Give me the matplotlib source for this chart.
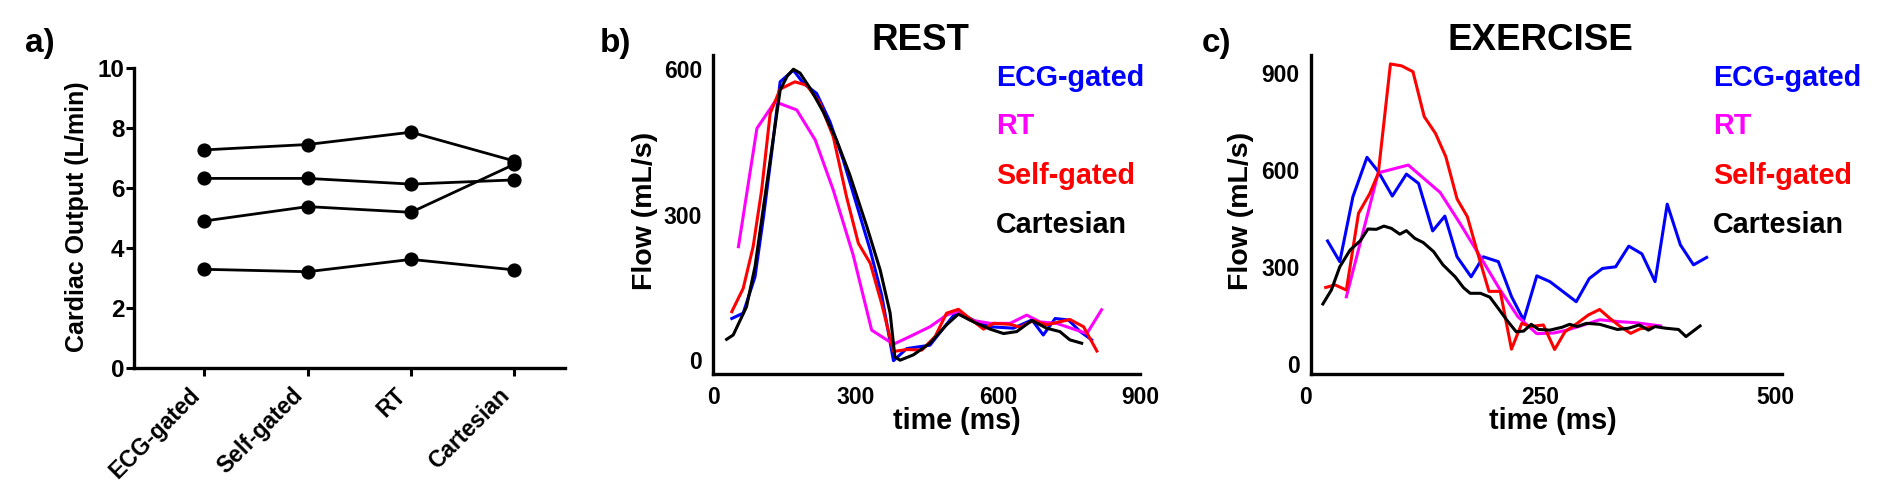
import matplotlib
matplotlib.use('Agg')
import matplotlib.pyplot as plt

plt.rcParams['font.family'] = ['Liberation Sans', 'DejaVu Sans']
plt.rcParams['font.weight'] = 'bold'

W, H, DPI = 1882, 504, 100

# ---------------- Panel a data ----------------
methods = ['ECG-gated', 'Self-gated', 'RT', 'Cartesian']
co_subject1 = [7.28, 7.46, 7.87, 6.91]
co_subject2 = [6.33, 6.33, 6.14, 6.28]
co_subject3 = [4.91, 5.39, 5.20, 6.80]
co_subject4 = [3.30, 3.22, 3.63, 3.28]

# ---------------- Panel b data (REST) ----------------
rest_ecg_t = [39, 63, 88, 106, 123, 141, 169, 190, 218, 246, 274, 331, 355, 380,
              408, 457, 513, 556, 584, 633, 672, 696, 721, 749, 774, 798]
rest_ecg_f = [86, 97, 172, 296, 427, 574, 598, 571, 550, 492, 413, 227, 135, -1,
              24, 31, 100, 79, 69, 66, 83, 52, 86, 83, 59, 42]

rest_rt_t = [53, 92, 130, 176, 215, 253, 295, 334, 380, 415, 457, 492, 513, 541,
             584, 626, 661, 689, 724, 788, 819]
rest_rt_f = [234, 478, 533, 516, 454, 351, 217, 62, 33, 49, 69, 93, 100, 83,
             76, 76, 93, 79, 76, 55, 104]

rest_self_t = [39, 63, 84, 102, 120, 141, 172, 197, 225, 253, 281, 306, 331, 355,
               380, 408, 440, 468, 492, 517, 541, 570, 591, 626, 647, 675, 703,
               752, 781, 809]
rest_self_f = [100, 148, 234, 351, 509, 559, 574, 567, 530, 461, 337, 241, 200, 117,
               18, 22, 21, 49, 97, 105, 86, 64, 76, 74, 68, 82, 73,
               84, 69, 19]

rest_cart_t = [28, 42, 70, 88, 106, 123, 141, 156, 169, 183, 204, 232, 260, 288,
               324, 352, 373, 383, 394, 422, 457, 492, 517, 549, 584, 612, 640,
               672, 703, 731, 752, 777]
rest_cart_f = [43, 52, 110, 193, 317, 433, 557, 586, 600, 592, 561, 512, 454, 382,
               275, 186, 97, 7, 0, 11, 35, 73, 95, 79, 64, 55, 59,
               82, 66, 59, 42, 35]

# ---------------- Panel c data (EXERCISE) ----------------
ex_ecg_t = [23, 36, 50, 65, 77, 92, 107, 120, 135, 148, 161, 176, 189, 205,
            219, 232, 246, 260, 274, 288, 302, 316, 330, 344, 358, 372, 385,
            399, 413, 427]
ex_ecg_f = [380, 316, 517, 639, 595, 519, 587, 558, 411, 457, 331, 269, 331, 316,
            208, 135, 272, 254, 223, 192, 264, 295, 300, 364, 340, 254, 494,
            368, 306, 329]

ex_rt_t = [43, 77, 109, 143, 164, 186, 207, 226, 246, 264, 278, 296, 313, 335,
           351, 378]
ex_rt_f = [207, 591, 615, 530, 435, 330, 228, 145, 93, 95, 104, 120, 136, 130,
           127, 117]

ex_self_t = [21, 31, 43, 56, 68, 77, 90, 102, 114, 126, 138, 149, 161, 172,
             182, 195, 207, 219, 230, 239, 253, 265, 276, 289, 301, 313, 324,
             335, 346, 356, 368]
ex_self_f = [236, 244, 228, 466, 527, 589, 928, 922, 904, 765, 713, 641, 510, 455,
             352, 224, 224, 45, 125, 115, 120, 44, 99, 125, 151, 168, 140,
             115, 94, 108, 113]

ex_cart_t = [18, 27, 36, 47, 58, 66, 75, 83, 91, 100, 107, 116, 125, 136,
             146, 159, 168, 175, 186, 196, 205, 214, 224, 232, 240, 248, 260,
             273, 281, 289, 299, 313, 332, 344, 355, 365, 372, 383, 397, 405, 420]
ex_cart_f = [185, 228, 300, 352, 381, 417, 416, 426, 419, 401, 412, 388, 375, 347,
             306, 269, 235, 218, 218, 206, 171, 135, 99, 101, 122, 106, 104,
             113, 122, 115, 125, 122, 106, 110, 120, 104, 115, 110, 106, 84, 117]

BLUE, MAGENTA, RED, BLACK = '#0000FF', '#FF00FF', '#FF0000', '#000000'

fig = plt.figure(figsize=(W / DPI, H / DPI), dpi=DPI)


def px_axes(l, t, r, b):
    return fig.add_axes([l / W, 1 - b / H, (r - l) / W, (b - t) / H])


def ftext(x, y, s, **kw):
    fig.text(x / W, 1 - y / H, s, **kw)


SPINE_LW = 2.4
TICK_FS = 16.5

# ---------------- Panel a ----------------
axa = px_axes(134.3, 68.3, 565, 368.3)
xs = list(range(len(methods)))
for series in (co_subject1, co_subject2, co_subject3, co_subject4):
    axa.plot(xs, series, color='black', lw=2.0, marker='o', ms=9.2,
             clip_on=False, zorder=3)
axa.set_xlim(-0.677, 3.49)
axa.set_ylim(0, 10)
axa.set_yticks([0, 2, 4, 6, 8, 10])
axa.set_xticks(xs)
axa.set_xticklabels(methods, rotation=45, ha='right', fontsize=16.5,
                    fontweight='bold')
for sp in ('top', 'right'):
    axa.spines[sp].set_visible(False)
for sp in ('left', 'bottom'):
    axa.spines[sp].set_linewidth(SPINE_LW)
axa.tick_params(axis='y', length=6, width=2.2, pad=1, labelsize=17.5)
axa.tick_params(axis='x', length=6, width=2.2, pad=5)
for lab in axa.get_yticklabels():
    lab.set_fontweight('bold')
ftext(76.8, 217, 'Cardiac Output (L/min)', rotation=90, ha='center',
      va='center', fontsize=18, fontweight='bold')
ftext(25, 52, 'a)', fontsize=24, fontweight='bold', ha='left', va='baseline')


def style_flow_axes(ax):
    for sp in ('top', 'right'):
        ax.spines[sp].set_visible(False)
    for sp in ('left', 'bottom'):
        ax.spines[sp].set_linewidth(SPINE_LW)
    ax.tick_params(axis='y', length=0, pad=8, labelsize=TICK_FS)
    ax.tick_params(axis='x', length=0, pad=9, labelsize=TICK_FS)
    for lab in ax.get_xticklabels() + ax.get_yticklabels():
        lab.set_fontweight('bold')


LEG_NAMES = ['ECG-gated', 'RT', 'Self-gated', 'Cartesian']
LEG_COLORS = [BLUE, MAGENTA, RED, BLACK]
LEG_BASE = [85.6, 134, 184, 233]
CURVE_LW = 2.2

# ---------------- Panel b ----------------
axb = px_axes(713.3, 55, 1140, 373.5)
axb.plot(rest_ecg_t, rest_ecg_f, color=BLUE, lw=CURVE_LW)
axb.plot(rest_rt_t, rest_rt_f, color=MAGENTA, lw=CURVE_LW)
axb.plot(rest_self_t, rest_self_f, color=RED, lw=CURVE_LW)
axb.plot(rest_cart_t, rest_cart_f, color=BLACK, lw=CURVE_LW)
axb.set_xlim(0, 900)
axb.set_ylim(-27.4, 629.3)
axb.set_xticks([0, 300, 600, 900])
axb.set_yticks([0, 300, 600])
style_flow_axes(axb)
ftext(645, 211, 'Flow (mL/s)', rotation=90, ha='center', va='center',
      fontsize=20.5, fontweight='bold')
ftext(957, 421, 'time (ms)', ha='center', va='center', fontsize=20.7,
      fontweight='bold')
ftext(920, 50, 'REST', ha='center', va='baseline', fontsize=26.5,
      fontweight='bold')
ftext(600, 52, 'b)', fontsize=24, fontweight='bold', ha='left', va='baseline')
for name, col, yb in zip(LEG_NAMES, LEG_COLORS, LEG_BASE):
    ftext(996, yb, name, color=col, fontsize=20.7, fontweight='bold',
          ha='left', va='baseline')

# ---------------- Panel c ----------------
axc = px_axes(1306, 55, 1781.7, 373.5)
axc.plot(ex_ecg_t, ex_ecg_f, color=BLUE, lw=CURVE_LW)
axc.plot(ex_rt_t, ex_rt_f, color=MAGENTA, lw=CURVE_LW)
axc.plot(ex_self_t, ex_self_f, color=RED, lw=CURVE_LW)
axc.plot(ex_cart_t, ex_cart_f, color=BLACK, lw=CURVE_LW)
axc.set_xlim(0, 507)
axc.set_ylim(-30.3, 955.7)
axc.set_xticks([0, 250, 500])
axc.set_yticks([0, 300, 600, 900])
style_flow_axes(axc)
axc.spines['left'].set_position(('data', 5))
axc.spines['bottom'].set_bounds(5, 507)
ftext(1241, 211, 'Flow (mL/s)', rotation=90, ha='center', va='center',
      fontsize=20.5, fontweight='bold')
ftext(1553, 421, 'time (ms)', ha='center', va='center', fontsize=20.7,
      fontweight='bold')
ftext(1540, 50, 'EXERCISE', ha='center', va='baseline', fontsize=26.5,
      fontweight='bold')
ftext(1202, 52, 'c)', fontsize=24, fontweight='bold', ha='left', va='baseline')
for name, col, yb in zip(LEG_NAMES, LEG_COLORS, LEG_BASE):
    ftext(1713, yb, name, color=col, fontsize=20.7, fontweight='bold',
          ha='left', va='baseline')

fig.savefig('out.png', dpi=DPI)
